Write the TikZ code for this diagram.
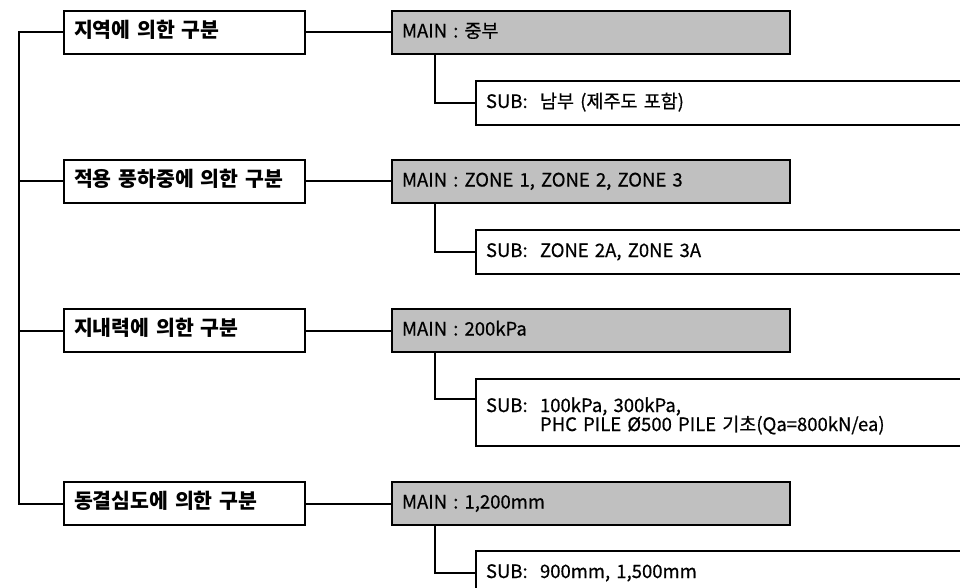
\documentclass[tikz,border=0pt]{standalone}
\usepackage{fontspec}
\setmainfont{Noto Sans CJK KR}
\newfontfamily\medfont[FakeBold=0.6]{Noto Sans CJK KR}
\usetikzlibrary{calc}
\definecolor{boxgray}{HTML}{C0C0C0}
\tikzset{
  base/.style={draw=black, line width=2pt, rectangle, anchor=north west, align=left,
    inner xsep=10pt, inner ysep=0pt, text height=15pt, text depth=5pt, font=\medfont\fontsize{18.5}{22}\selectfont},
  catbox/.style={base, minimum width=241pt, minimum height=43pt, fill=white, text width=221pt, font=\fontsize{20.5}{24}\selectfont\bfseries},
  mainbox/.style={base, minimum width=398pt, minimum height=43pt, fill=boxgray, text width=378pt},
  subbox/.style={base, minimum width=540pt, minimum height=44pt, fill=white, text width=520pt},
  conn/.style={draw=black, line width=2pt},
}
\begin{document}
\begin{tikzpicture}[x=1pt, y=-1pt]
\useasboundingbox (0,0) rectangle (960,588);

\coordinate (spine) at (19,0);

\node[catbox] (c1) at (63,10) {지역에 의한 구분};
\node[mainbox] (m1) at (391,10) {MAIN : 중부};
\node[subbox] (s1) at (475,80) {SUB:\ \ 남부 (제주도 포함)};

\node[catbox] (c2) at (63,159) {적용 풍하중에 의한 구분};
\node[mainbox] (m2) at (391,159) {MAIN : ZONE 1, ZONE 2, ZONE 3};
\node[subbox] (s2) at (475,229) {SUB:\ \ ZONE 2A, Z0NE 3A};

\node[catbox] (c3) at (63,308) {지내력에 의한 구분};
\node[mainbox] (m3) at (391,308) {MAIN : 200kPa};
\node[subbox, minimum height=67pt, text height=14pt, text depth=15pt] (s3) at (475,378) {SUB:\ \ \begin{tabular}[t]{@{}l@{}}100kPa, 300kPa,\\[-3pt]PHC PILE Ø500 PILE 기초(Qa=800kN/ea)\end{tabular}};

\node[catbox] (c4) at (63,481) {동결심도에 의한 구분};
\node[mainbox] (m4) at (391,481) {MAIN : 1,200mm};
\node[subbox] (s4) at (475,550) {SUB:\ \ 900mm, 1,500mm};

% spine
\draw[conn] (c1.west) -- (c1.west -| spine) -- (c4.west -| spine) -- (c4.west);
\draw[conn] (c2.west) -- (c2.west -| spine);
\draw[conn] (c3.west) -- (c3.west -| spine);

% category to main
\draw[conn] (c1.east) -- (m1.west);
\draw[conn] (c2.east) -- (m2.west);
\draw[conn] (c3.east) -- (m3.west);
\draw[conn] (c4.east) -- (m4.west);

% main to sub
\draw[conn] ($(m1.south west)+(44,0)$) |- (s1.west);
\draw[conn] ($(m2.south west)+(44,0)$) |- (s2.west);
\draw[conn] ($(m3.south west)+(44,0)$) |- ($(s3.north west)+(0,21)$);
\draw[conn] ($(m4.south west)+(44,0)$) |- (s4.west);
\end{tikzpicture}
\end{document}
